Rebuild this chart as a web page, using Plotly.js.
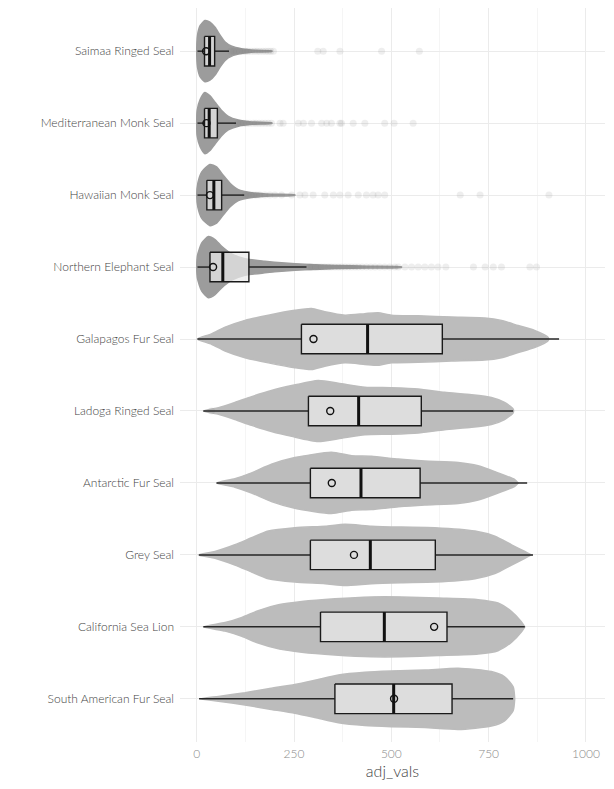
<!DOCTYPE html>
<html>
<head>
<meta charset="utf-8">
<script src="https://cdn.plot.ly/plotly-3.0.1.min.js"></script>
<style>html,body{margin:0;padding:0;background:#fff;}#chart{width:614px;height:789px;}</style>
</head>
<body>
<div id="chart"></div>
<script>
// ---- data ----
const categories = ["Saimaa Ringed Seal", "Mediterranean Monk Seal", "Hawaiian Monk Seal", "Northern Elephant Seal",
  "Galapagos Fur Seal", "Ladoga Ringed Seal", "Antarctic Fur Seal", "Grey Seal", "California Sea Lion", "South American Fur Seal"];
const lowerWhisker = [2, 2, 2, 2, 2, 17, 51, 6, 17, 6];
const q1Vals = [20, 20, 26, 34, 269, 287, 292, 292, 318, 355];
const medianVals = [33, 32, 44, 67, 439, 416, 422, 446, 482, 506];
const q3Vals = [46, 53, 64, 134, 631, 577, 574, 613, 643, 656];
const upperWhisker = [83, 101, 122, 282, 931, 813, 849, 864, 843, 813];
const circleVals = [24, 25, 34, 42, 300, 343, 347, 404, 610, 507];

// violin outlines: value positions and relative half-width (1 = widest)
const violinX = [
  [0, 2, 9, 21, 34, 47, 60, 73, 90, 115, 150, 193],
  [0, 1, 9, 21, 34, 47, 64, 81, 107, 141, 193],
  [0, 3, 13, 34, 51, 68, 86, 107, 141, 193, 252],
  [0, 2, 13, 30, 47, 64, 90, 124, 175, 227, 278, 355, 441, 526],
  [1, 38, 73, 124, 184, 252, 295, 329, 381, 432, 466, 500, 569, 655, 740, 783, 826, 868, 903],
  [17, 56, 98, 141, 192, 244, 312, 372, 432, 500, 569, 637, 706, 757, 791, 813],
  [51, 98, 141, 192, 252, 346, 398, 449, 518, 586, 672, 723, 774, 817, 826],
  [4, 47, 98, 141, 184, 252, 330, 381, 449, 526, 612, 715, 766, 809, 843, 860],
  [17, 73, 116, 158, 210, 270, 355, 449, 526, 620, 723, 774, 809, 834, 843],
  [9, 56, 124, 184, 252, 304, 364, 432, 500, 586, 672, 757, 791, 813, 817]
];
const violinD = [
  [0, 0.52, 0.84, 1.0, 0.95, 0.78, 0.52, 0.30, 0.16, 0.08, 0.03, 0.01],
  [0, 0.41, 0.78, 1.0, 0.89, 0.68, 0.41, 0.22, 0.10, 0.04, 0.01],
  [0, 0.40, 0.76, 1.0, 0.92, 0.65, 0.38, 0.18, 0.08, 0.03, 0.01],
  [0, 0.38, 0.79, 1.0, 0.90, 0.68, 0.43, 0.27, 0.19, 0.13, 0.09, 0.05, 0.03, 0.01],
  [0, 0.17, 0.39, 0.61, 0.78, 0.94, 1.0, 0.89, 0.78, 0.83, 0.86, 0.78, 0.76, 0.72, 0.69, 0.61, 0.44, 0.28, 0.05],
  [0, 0.11, 0.28, 0.47, 0.67, 0.83, 1.0, 0.89, 0.78, 0.76, 0.72, 0.61, 0.53, 0.44, 0.28, 0.06],
  [0, 0.14, 0.33, 0.61, 0.83, 1.0, 0.89, 0.87, 0.78, 0.72, 0.67, 0.56, 0.33, 0.11, 0],
  [0, 0.11, 0.33, 0.56, 0.78, 0.89, 0.94, 1.0, 0.94, 0.91, 0.89, 0.78, 0.61, 0.33, 0.11, 0],
  [0, 0.14, 0.31, 0.53, 0.72, 0.83, 0.92, 0.98, 0.98, 0.94, 0.89, 0.78, 0.50, 0.17, 0],
  [0, 0.08, 0.20, 0.33, 0.47, 0.61, 0.78, 0.87, 0.91, 0.94, 1.0, 0.89, 0.72, 0.39, 0]
];
const outlierVals = [
  [88, 95, 102, 110, 118, 125, 132, 140, 148, 155, 162, 170, 177, 184, 190, 197, 311, 325, 368, 475, 572],
  [105, 112, 120, 128, 136, 145, 152, 160, 168, 176, 184, 192, 214, 222, 261, 274, 295, 321, 334, 346, 368, 372, 402, 432, 483, 507, 556],
  [125, 132, 140, 147, 154, 162, 175, 188, 201, 218, 244, 265, 278, 299, 329, 351, 368, 389, 415, 436, 453, 466, 483, 677, 728, 905],
  [290, 295, 305, 312, 320, 329, 338, 346, 355, 364, 372, 381, 390, 398, 407, 415, 425, 436, 447, 458, 470, 483, 496, 509, 518, 535, 552, 569, 586, 603, 620, 640, 711, 741, 762, 783, 856, 873],
  [], [38], [], [], [], []
];
const xTickVals = [0, 250, 500, 750, 1000];

// ---- styles ----
const violinFill = ["#9c9c9c", "#9c9c9c", "#9c9c9c", "#9c9c9c", "#bcbcbc", "#bcbcbc", "#bcbcbc", "#bcbcbc", "#bcbcbc", "#bcbcbc"];
const HALF = 0.425;
const BOXHALF = 0.205;
const FONT = "Lato, 'Open Sans', sans-serif";

const idx = categories.map((c, i) => i);
const traces = [];

// violins
categories.forEach((c, i) => {
  const xs = violinX[i], ds = violinD[i];
  const upper = xs.map((v, k) => i - ds[k] * HALF);
  const lower = xs.map((v, k) => i + ds[k] * HALF);
  traces.push({
    type: "scatter", mode: "lines",
    x: xs.concat(xs.slice().reverse()),
    y: upper.concat(lower.slice().reverse()),
    fill: "toself", fillcolor: violinFill[i],
    line: {color: violinFill[i], width: 1.5, shape: "spline", smoothing: 0.6},
    hoverinfo: "skip", showlegend: false
  });
});

// outlier points
const ox = [], oy = [];
outlierVals.forEach((arr, i) => arr.forEach(v => { ox.push(v); oy.push(i); }));
traces.push({
  type: "scatter", mode: "markers", x: ox, y: oy,
  marker: {size: 7, color: "rgba(120,120,120,0.13)", line: {width: 0}},
  hoverinfo: "skip", showlegend: false
});

// whiskers
const wx = [], wy = [];
idx.forEach(i => {
  wx.push(lowerWhisker[i], q1Vals[i], null, q3Vals[i], upperWhisker[i], null);
  wy.push(i, i, null, i, i, null);
});
traces.push({
  type: "scatter", mode: "lines", x: wx, y: wy,
  line: {color: "#262626", width: 1.5}, hoverinfo: "skip", showlegend: false
});

// boxes
idx.forEach(i => {
  traces.push({
    type: "scatter", mode: "lines",
    x: [q1Vals[i], q3Vals[i], q3Vals[i], q1Vals[i], q1Vals[i]],
    y: [i - BOXHALF, i - BOXHALF, i + BOXHALF, i + BOXHALF, i - BOXHALF],
    fill: "toself", fillcolor: "rgba(234,234,234,0.72)",
    line: {color: "#1a1a1a", width: 1.4},
    hoverinfo: "skip", showlegend: false
  });
});

// thick medians
const mx = [], my = [];
medianVals.forEach((m, i) => { mx.push(m, m, null); my.push(i - BOXHALF, i + BOXHALF, null); });
traces.push({
  type: "scatter", mode: "lines", x: mx, y: my,
  line: {color: "#111", width: 3}, hoverinfo: "skip", showlegend: false
});

// circles
traces.push({
  type: "scatter", mode: "markers", x: circleVals, y: idx,
  marker: {symbol: "circle-open", size: 7, color: "#111", line: {width: 1.4}},
  hoverinfo: "skip", showlegend: false
});

const layout = {
  width: 614, height: 789,
  margin: {l: 180, r: 9, t: 8, b: 47},
  paper_bgcolor: "#fff", plot_bgcolor: "#fff",
  showlegend: false,
  font: {family: FONT, color: "#444"},
  xaxis: {
    range: [-43, 1049],
    tickmode: "array", tickvals: xTickVals, ticktext: xTickVals.map(String),
    showgrid: true, gridcolor: "#ebebeb", gridwidth: 1,
    minor: {tickmode: "array", tickvals: [125, 375, 625, 875], showgrid: true, gridcolor: "#f1f1f1", gridwidth: 0.7},
    zeroline: false, showline: false, ticks: "",
    ticklabelstandoff: 3,
    tickfont: {family: FONT, size: 12, color: "#8a8a8a", weight: 300},
    title: {text: "adj_vals", font: {family: FONT, size: 16, color: "#444", weight: 300}, standoff: 3},
    automargin: false
  },
  yaxis: {
    range: [9.6, -0.6],
    tickmode: "array", tickvals: idx, ticktext: categories,
    showgrid: true, gridcolor: "#ebebeb", gridwidth: 1,
    zeroline: false, showline: false, ticks: "",
    ticklabelstandoff: 5,
    tickfont: {family: FONT, size: 12, color: "#444", weight: 300},
    automargin: false
  }
};

Plotly.newPlot("chart", traces, layout, {staticPlot: true, displayModeBar: false});
</script>
</body>
</html>
